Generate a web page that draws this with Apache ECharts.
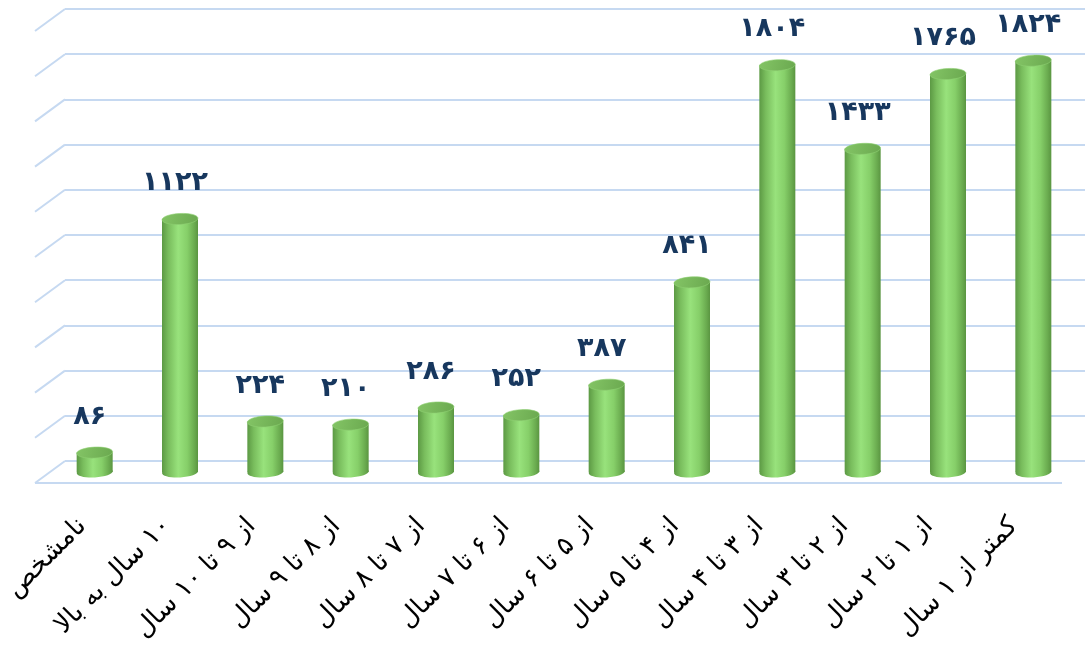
<!DOCTYPE html>
<html><head><meta charset="utf-8">
<script src="https://cdn.jsdelivr.net/npm/echarts@6/dist/echarts.min.js"></script>
<style>html,body{margin:0;padding:0;background:#fff}#c{width:1085px;height:657px}</style>
</head><body><div id="c"></div>
<script>
const categories = ['نامشخص','۱۰ سال به بالا','از ۹ تا ۱۰ سال','از ۸ تا ۹ سال','از ۷ تا ۸ سال','از ۶ تا ۷ سال','از ۵ تا ۶ سال','از ۴ تا ۵ سال','از ۳ تا ۴ سال','از ۲ تا ۳ سال','از ۱ تا ۲ سال','کمتر از ۱ سال'];
const values = [86, 1122, 224, 210, 286, 252, 387, 841, 1804, 1433, 1765, 1824];
const gridTicks = [0, 200, 400, 600, 800, 1000, 1200, 1400, 1600, 1800, 2000];
const persianDigits = ['۰','۱','۲','۳','۴','۵','۶','۷','۸','۹'];
function toPersian(n){ return String(n).replace(/\d/g, d => persianDigits[+d]); }

const chart = echarts.init(document.getElementById('c'), null, {renderer: 'canvas'});
const gridColor = '#c6d9f1';

const option = {
  animation: false,
  grid: [
    {left: 65, right: 0, top: 9, bottom: 196},
    {left: 52, right: 9, top: 21, bottom: 185},
    {left: 32, right: 29, top: 21, bottom: 185}
  ],
  xAxis: [
    {gridIndex: 0, type: 'value', min: 0, max: 1, show: false},
    {gridIndex: 1, type: 'category', data: categories, show: false},
    {gridIndex: 2, type: 'category', data: categories,
      axisLine: {show: false}, axisTick: {show: false},
      axisLabel: {interval: 0, rotate: 45, margin: 50, color: '#000', fontSize: 26, fontFamily: 'DejaVu Sans',
        formatter: v => '\u200F' + v}}
  ],
  yAxis: [
    {gridIndex: 0, type: 'value', min: 0, max: 2000, interval: 200,
      axisLine: {show: false}, axisTick: {show: false}, axisLabel: {show: false},
      splitLine: {show: true, lineStyle: {color: gridColor, width: 2}}},
    {gridIndex: 1, type: 'value', min: 0, max: 2000, show: false, splitLine: {show: false}},
    {gridIndex: 2, type: 'value', min: 0, max: 2000, show: false, splitLine: {show: false}}
  ],
  series: [
    {
      type: 'custom', xAxisIndex: 0, yAxisIndex: 0, z: 1, silent: true,
      data: gridTicks.map(v => [0, v]),
      renderItem(params, api) {
        const p = api.coord([0, api.value(1)]);
        const children = [{type: 'line', shape: {x1: p[0], y1: p[1], x2: p[0] - 30, y2: p[1] + 22},
          style: {stroke: gridColor, lineWidth: 2}}];
        if (api.value(1) === 0) {
          const r = api.coord([1, 0]);
          children.push({type: 'line', shape: {x1: p[0] - 30, y1: p[1] + 22, x2: r[0] - 23, y2: p[1] + 22},
            style: {stroke: gridColor, lineWidth: 2}});
        }
        return {type: 'group', children};
      }
    },
    {
      type: 'custom', xAxisIndex: 1, yAxisIndex: 1, z: 5,
      data: values.map((v, i) => [i, v]),
      encode: {x: 0, y: 1},
      renderItem(params, api) {
        const i = api.value(0), v = api.value(1);
        const top = api.coord([i, v]);
        const base = api.coord([i, 0]);
        const cx = top[0], rx = 18, ry = 5.5, rot = 0.05;
        const bodyFill = new echarts.graphic.LinearGradient(0, 0, 1, 0, [
          {offset: 0, color: '#5c9944'},
          {offset: 0.18, color: '#79bd5d'},
          {offset: 0.45, color: '#98e27c'},
          {offset: 0.7, color: '#86cf69'},
          {offset: 0.9, color: '#6aab4f'},
          {offset: 1, color: '#5a9541'}
        ]);
        const topFill = new echarts.graphic.LinearGradient(0, 0, 1, 1, [
          {offset: 0, color: '#84c566'},
          {offset: 1, color: '#6aa84f'}
        ]);
        return {type: 'group', children: [
          {type: 'ellipse', shape: {cx: cx, cy: base[1], rx: rx, ry: ry}, rotation: rot, originX: cx, originY: base[1], style: {fill: bodyFill}},
          {type: 'rect', shape: {x: cx - rx, y: top[1], width: 2 * rx, height: base[1] - top[1]}, style: {fill: bodyFill}},
          {type: 'ellipse', shape: {cx: cx, cy: top[1], rx: rx, ry: ry}, rotation: rot, originX: cx, originY: top[1], style: {fill: topFill, stroke: '#8fd073', lineWidth: 0.6}},
          {type: 'text', style: {text: toPersian(v), x: cx - 5, y: top[1] - 36, align: 'center', verticalAlign: 'middle',
            fill: '#17375e', font: 'bold 27px "DejaVu Sans"'}}
        ]};
      }
    }
  ]
};
chart.setOption(option);
</script></body></html>
